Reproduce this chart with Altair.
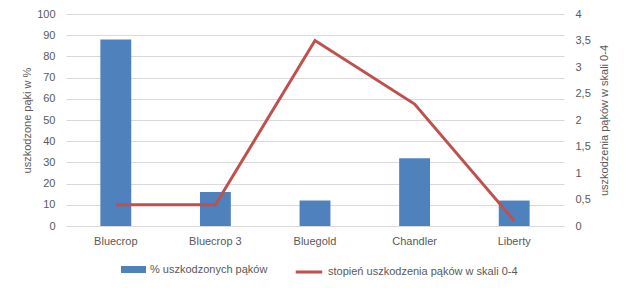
import altair as alt
import pandas as pd

categories = ["Bluecrop", "Bluecrop 3", "Bluegold", "Chandler", "Liberty"]
pct_damaged = [88, 16, 12, 32, 12]
damage_degree = [0.4, 0.4, 3.5, 2.3, 0.1]
bar_label = "% uszkodzonych pąków"
line_label = "stopień uszkodzenia pąków w skali 0-4"
left_ticks = list(range(0, 101, 10))
right_ticks = [0, 0.5, 1, 1.5, 2, 2.5, 3, 3.5, 4]

df = pd.DataFrame({
    "odmiana": categories,
    "pct": pct_damaged,
    "deg": damage_degree,
    "s_bar": [bar_label] * len(categories),
    "s_line": [line_label] * len(categories),
})

FONT = "Liberation Sans"
GREY = "#595959"
FS = 11

x = alt.X(
    "odmiana:N", sort=categories, title=None,
    scale=alt.Scale(paddingInner=0.69, paddingOuter=0.345),
    axis=alt.Axis(labelAngle=0, ticks=False, domainColor="#D9D9D9", domainWidth=1,
                  labelPadding=9, labelFontSize=FS, labelColor=GREY, labelFont=FONT),
)

bars = alt.Chart(df).mark_bar(stroke=None).encode(
    x=x,
    y=alt.Y("pct:Q", title="uszkodzone pąki w %",
            scale=alt.Scale(domain=[0, 100], nice=False),
            axis=alt.Axis(values=left_ticks, domain=False, ticks=False, gridColor="#D9D9D9",
                          labelPadding=11, labelFontSize=FS, labelColor=GREY, labelFont=FONT,
                          titleFontSize=FS, titleColor=GREY, titleFont=FONT,
                          titleFontWeight="normal", titlePadding=4)),
    fill=alt.Fill("s_bar:N", scale=alt.Scale(range=["#4F81BD"]),
                  legend=alt.Legend(orient="none", legendX=55, legendY=243, title=None,
                                    symbolType="M-1,-0.28L1,-0.28L1,0.28L-1,0.28Z",
                                    symbolSize=625, symbolStrokeWidth=0,
                                    labelFontSize=FS, labelColor=GREY, labelFont=FONT,
                                    labelLimit=400, symbolOpacity=1)),
)

line = alt.Chart(df).mark_line(strokeWidth=3).encode(
    x=x,
    y=alt.Y("deg:Q", title="uszkodzenia pąków w skali 0-4",
            scale=alt.Scale(domain=[0, 4], nice=False),
            axis=alt.Axis(orient="right", values=right_ticks, grid=False, domain=False, ticks=False,
                          format="~g",
                          labelExpr="replace(datum.label, '.', ',')",
                          labelPadding=11, labelFontSize=FS, labelColor=GREY, labelFont=FONT,
                          titleFontSize=FS, titleColor=GREY, titleFont=FONT,
                          titleFontWeight="normal", titleAngle=270, titleBaseline="top",
                          titlePadding=8)),
    stroke=alt.Stroke("s_line:N", scale=alt.Scale(range=["#C0504D"]),
                      legend=alt.Legend(orient="none", legendX=228, legendY=243, title=None,
                                        symbolType="stroke", symbolSize=700,
                                        symbolStrokeWidth=3, labelLimit=400,
                                        labelFontSize=FS, labelColor=GREY, labelFont=FONT)),
)

chart = alt.layer(bars, line).resolve_scale(y="independent").properties(
    width=498, height=212,
    autosize=alt.AutoSizeParams(type="none"),
    padding={"left": 66, "top": 14, "right": 64, "bottom": 62},
    background="white",
).configure_view(stroke=None)

chart.save("out.html", embed_options={"renderer": "svg", "actions": False})
